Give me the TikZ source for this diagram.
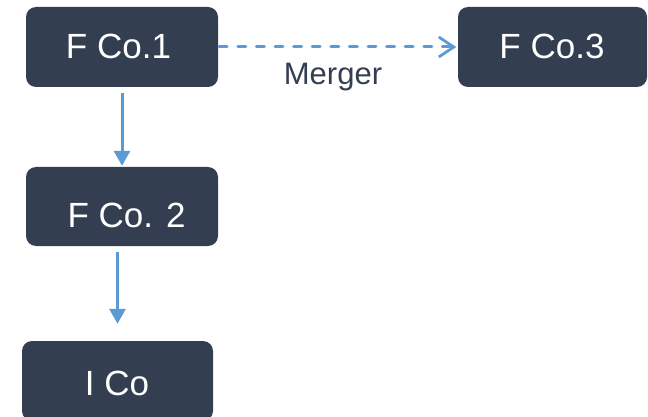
\documentclass[tikz,border=0pt]{standalone}
\usepackage{fontspec}
\setmainfont{Liberation Sans}
\usetikzlibrary{arrows.meta,calc}
\definecolor{boxfill}{HTML}{343E51}
\definecolor{linkblue}{HTML}{5B9BD5}
\definecolor{labeltext}{HTML}{343E51}
\tikzset{
  firm/.style={fill=boxfill, draw=none, rounded corners=10pt, inner sep=0pt},
  firmtext/.style={text=white, font=\fontsize{35}{40}\selectfont, inner sep=0pt},
  owns/.style={draw=linkblue, line width=3pt, -{Triangle[length=15pt,width=16pt]}},
  merges/.style={draw=linkblue, line width=3pt, line cap=round,
    dash pattern=on 8pt off 10.6pt,
    -{Straight Barb[length=15pt,width=20pt,line width=2.8pt]}},
}
\begin{document}
\begin{tikzpicture}[x=1pt,y=1pt]
  \useasboundingbox (0,0) rectangle (648,-417);
  \begin{scope}
    \clip (0,0) rectangle (648,-417);
    % company boxes
    \node[firm, minimum width=192pt, minimum height=80pt] (f1) at (122,-47) {};
    \node[firm, minimum width=189pt, minimum height=80pt] (f3) at (552.5,-47) {};
    \node[firm, minimum width=192pt, minimum height=79pt] (f2) at (122,-206.5) {};
    \node[firm, minimum width=191pt, minimum height=80pt] (ic) at (117.5,-381) {};
  \end{scope}
  % box captions
  \node[firmtext] (t1) at (118.5,-46.5) {F Co.1};
  \node[firmtext] (t3) at (552,-46.5) {F Co.3};
  \node[firmtext] (t2) at (126.5,-215) {F Co. 2};
  \node[firmtext] (ti) at (117,-383.5) {I Co};
  % ownership links
  \draw[owns, shorten <=6pt, shorten >=1pt] (f1.south) -- (f2.north);
  \draw[owns, shorten <=6pt, shorten >=17pt] (f2.south -| ic.north) -- (ic.north);
  % merger link
  \draw[merges, shorten <=1pt, shorten >=1.5pt] (f1.east) -- (f3.west);
  \node[text=labeltext, font=\fontsize{31}{36}\selectfont, inner sep=0pt] (mg)
    at (333,-77.5) {Merger};
\end{tikzpicture}
\end{document}
